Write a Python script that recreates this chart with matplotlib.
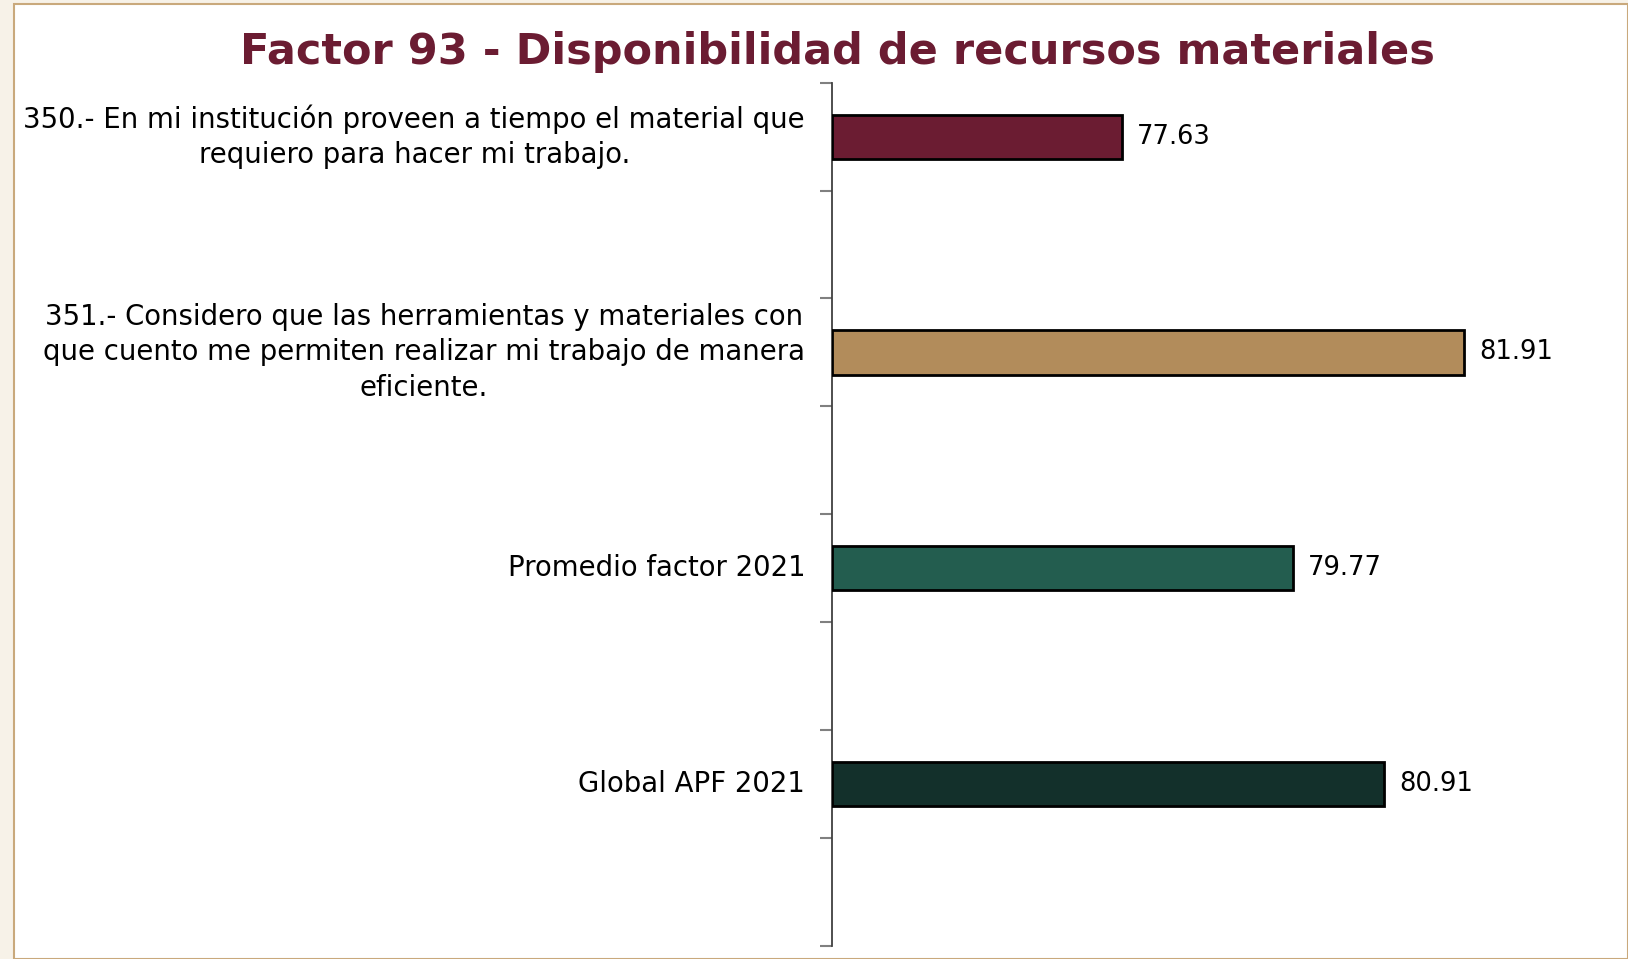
import matplotlib.pyplot as plt
from matplotlib.patches import Rectangle

# datos
categorias = [
    "350.- En mi institución proveen a tiempo el material que\nrequiero para hacer mi trabajo.",
    "351.- Considero que las herramientas y materiales con\nque cuento me permiten realizar mi trabajo de manera\neficiente.",
    "Promedio factor 2021",
    "Global APF 2021",
]
valores = [77.63, 81.91, 79.77, 80.91]
colores = ["#6B1C32", "#B28C5B", "#235D4F", "#13302B"]
posiciones = [0.5, 2.5, 4.5, 6.5]

titulo = "Factor 93 - Disponibilidad de recursos materiales"

plt.rcParams["font.family"] = ["DejaVu Sans"]

fig = plt.figure(figsize=(16.28, 9.59), dpi=100)
fig.patch.set_facecolor("#F7F2E8")

# panel blanco con borde
panel = Rectangle((14 / 1628, 0), 1 - 14 / 1628, 1 - 4 / 959, transform=fig.transFigure,
                  facecolor="white", edgecolor="#C9A97C", linewidth=1.5, zorder=-5)
fig.patches.append(panel)

ax = fig.add_axes([831.5 / 1628, 13.3 / 959, 800 / 1628, 863 / 959])
ax.set_facecolor("none")

xmin = 74
ax.barh(posiciones, [v - xmin for v in valores], left=xmin, height=0.41,
        color=colores, edgecolor="black", linewidth=2, zorder=3)

for p, v in zip(posiciones, valores):
    ax.text(v + 0.19, p, f"{v:.2f}", va="center", ha="left", fontsize=18.5, color="black")

for p, c in zip(posiciones, categorias):
    ax.text(-0.033, p, c, transform=ax.get_yaxis_transform(), ha="right", va="center",
            multialignment="center", fontsize=19.8, color="black", linespacing=1.33)

ax.set_xlim(xmin, 84)
ax.set_ylim(8, 0)
ax.set_yticks(range(9))
ax.set_yticklabels([])
ax.set_xticks([])
ax.tick_params(axis="y", direction="out", length=9, width=1.5, color="#808080")
for s in ["top", "right", "bottom"]:
    ax.spines[s].set_visible(False)
ax.spines["left"].set_color("#404040")
ax.spines["left"].set_linewidth(1.3)

fig.text(837 / 1628, 1 - 52 / 959, titulo, ha="center", va="center",
         fontsize=31, fontweight="bold", color="#6B1C32")

fig.savefig("out.png", dpi=100, facecolor=fig.get_facecolor())
